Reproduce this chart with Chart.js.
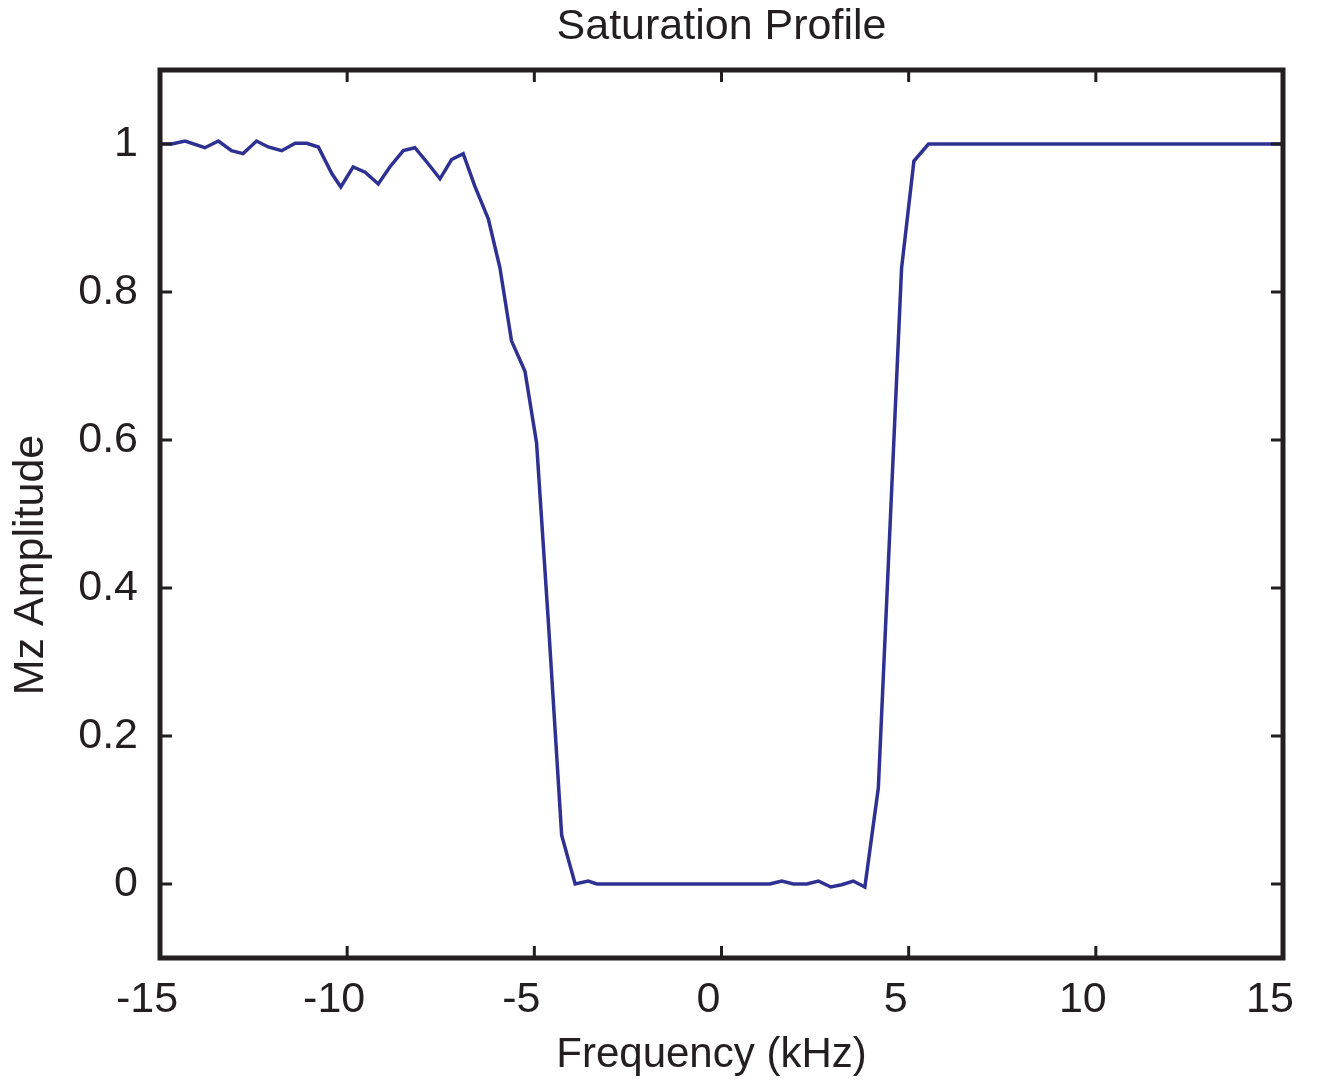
<!DOCTYPE html>
<html>
<head>
<meta charset="utf-8">
<title>Saturation Profile</title>
<script src="https://cdn.jsdelivr.net/npm/chart.js@4.4.0/dist/chart.umd.min.js"></script>
<style>
  html, body { margin: 0; padding: 0; background: #fff; }
  #wrap { width: 1319px; height: 1086px; }
</style>
</head>
<body>
<div id="wrap"><canvas id="profileChart" width="1319" height="1086"></canvas></div>
<script>
// Frequency (kHz) and Mz amplitude
const freq = [
  -15.0, -14.69, -14.33, -13.80, -13.44, -13.09, -12.78, -12.42, -12.11, -11.75,
  -11.39, -11.08, -10.77, -10.41, -10.17, -9.84, -9.52, -9.17, -8.86, -8.50,
  -8.19, -7.83, -7.52, -7.21, -6.90, -6.59, -6.23, -5.92, -5.61, -5.25,
  -4.94, -4.62, -4.27, -3.91, -3.56, -3.33, 1.29, 1.61, 1.92, 2.28,
  2.59, 2.92, 3.21, 3.52, 3.83, 4.19, 4.81, 5.14, 5.53, 15.0
];
const mz = [
  1.000, 1.000, 1.004, 0.995, 1.004, 0.991, 0.987, 1.004, 0.996, 0.991,
  1.001, 1.001, 0.996, 0.960, 0.942, 0.969, 0.962, 0.946, 0.969, 0.991,
  0.995, 0.973, 0.953, 0.979, 0.987, 0.943, 0.899, 0.833, 0.734, 0.693,
  0.596, 0.350, 0.066, 0.000, 0.004, 0.000, 0.000, 0.004, 0.000, 0.000,
  0.004, -0.004, -0.001, 0.004, -0.004, 0.130, 0.832, 0.977, 1.000, 1.000
];
const xTicks = [-15, -10, -5, 0, 5, 10, 15];
const yTicks = [0, 0.2, 0.4, 0.6, 0.8, 1];

const ink = '#231f20';
const lineColor = '#2e3192';
const fontFamily = '"Liberation Sans", Arial, Helvetica, sans-serif';

Chart.defaults.font.family = fontFamily;
Chart.defaults.font.size = 43;
Chart.defaults.color = ink;

// MATLAB-style box with inward ticks on all four sides, plus the titles
const frameTicks = {
  id: 'frameTicks',
  afterDatasetsDraw(chart) {
    const { ctx, chartArea: a, scales: { x, y } } = chart;
    ctx.save();
    ctx.strokeStyle = ink;
    ctx.lineWidth = 3;
    ctx.beginPath();
    xTicks.forEach(v => {
      const px = x.getPixelForValue(v);
      ctx.moveTo(px, a.bottom); ctx.lineTo(px, a.bottom - 12);
      ctx.moveTo(px, a.top); ctx.lineTo(px, a.top + 12);
    });
    yTicks.forEach(v => {
      const py = y.getPixelForValue(v);
      ctx.moveTo(a.left, py); ctx.lineTo(a.left + 12, py);
      ctx.moveTo(a.right, py); ctx.lineTo(a.right - 12, py);
    });
    ctx.stroke();
    ctx.lineWidth = 5;
    ctx.strokeRect(a.left, a.top, a.right - a.left, a.bottom - a.top);

    const cx = (a.left + a.right) / 2;
    ctx.fillStyle = ink;
    ctx.textAlign = 'center';
    ctx.textBaseline = 'middle';
    ctx.font = '43px ' + fontFamily;
    ctx.fillText('Saturation Profile', cx, 27);
    ctx.font = '42px ' + fontFamily;
    ctx.fillText('Frequency (kHz)', cx - 10, 1055);

    ctx.font = '43px ' + fontFamily;
    ctx.translate(31, (a.top + a.bottom) / 2 + 51);
    ctx.rotate(-Math.PI / 2);
    ctx.fillText('Mz Amplitude', 0, 0);
    ctx.restore();
  }
};

const ctx = document.getElementById('profileChart').getContext('2d');
new Chart(ctx, {
  type: 'line',
  data: {
    datasets: [{
      data: freq.map((f, i) => ({ x: f, y: mz[i] })),
      borderColor: lineColor,
      borderWidth: 3.5,
      pointRadius: 0,
      tension: 0,
      fill: false
    }]
  },
  options: {
    responsive: false,
    animation: false,
    layout: { padding: { left: 0, right: 36, top: 70, bottom: 0 } },
    plugins: {
      legend: { display: false },
      tooltip: { enabled: false },
      title: { display: false }
    },
    scales: {
      x: {
        type: 'linear',
        min: -15,
        max: 15,
        grid: { display: false, drawTicks: false },
        border: { display: false },
        afterBuildTicks: s => { s.ticks = xTicks.map(v => ({ value: v })); },
        afterFit: s => { s.height = 128; s.paddingLeft = 0; s.paddingRight = 0; },
        ticks: { padding: 16, maxRotation: 0, labelOffset: -13, callback: v => String(v) }
      },
      y: {
        type: 'linear',
        min: -0.1,
        max: 1.1,
        grid: { display: false, drawTicks: false },
        border: { display: false },
        afterBuildTicks: s => { s.ticks = yTicks.map(v => ({ value: v })); },
        afterFit: s => { s.width = 160; s.paddingTop = 0; s.paddingBottom = 0; },
        ticks: { padding: 22, callback: v => String(+v.toFixed(1)) }
      }
    }
  },
  plugins: [frameTicks]
});
</script>
</body>
</html>
